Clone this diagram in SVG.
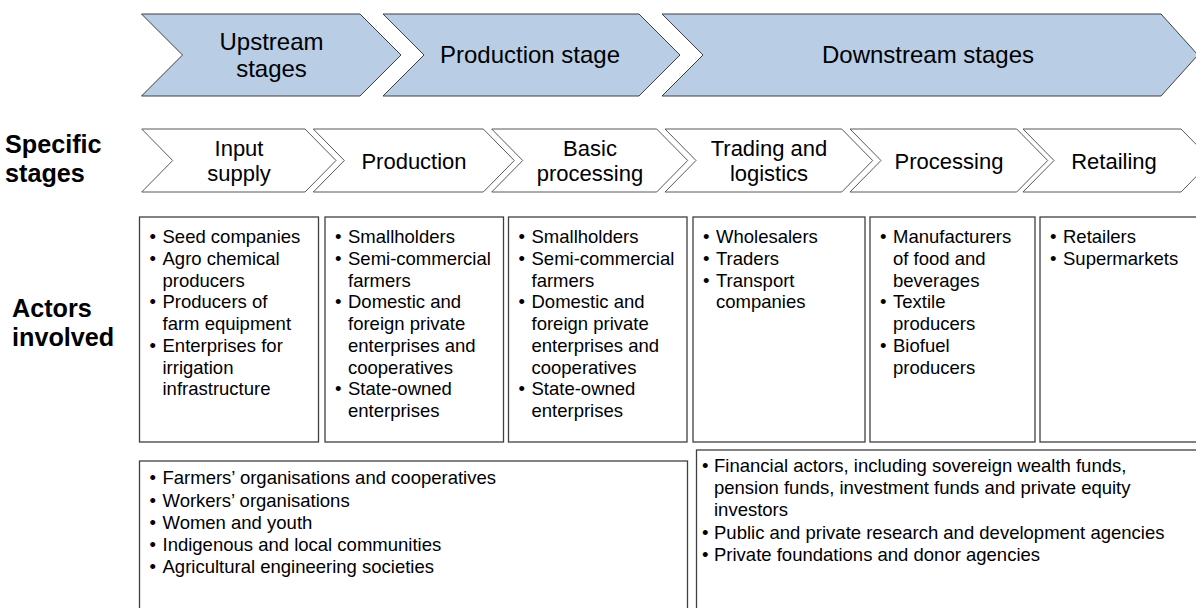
<svg xmlns="http://www.w3.org/2000/svg" width="1196" height="608" viewBox="0 0 1196 608">
<style>
text{font-family:"Liberation Sans",Arial,sans-serif;fill:#000}
.top{fill:#B9CDE5;stroke:#404040;stroke-width:1}
.stage{fill:#FFFFFF;stroke:#595959;stroke-width:1}
.box{fill:#FFFFFF;stroke:#404040;stroke-width:1.3}
.t1{font-size:24px;text-anchor:middle}
.t2{font-size:22px;text-anchor:middle}
.lbl{font-size:25.2px;font-weight:bold}
.bx{font-size:18.5px}
</style>
<rect width="1196" height="608" fill="#FFFFFF"/>

<g id="upstream">
<path class="top" d="M141.5,14 L360,14 L401,55 L360,96 L141.5,96 L182.5,55 Z"/>
<text class="t1" x="271.5" y="50">Upstream<tspan x="271.5" y="77">stages</tspan></text>
</g>
<g id="production-stage">
<path class="top" d="M383,14 L639,14 L680,55 L639,96 L383,96 L424,55 Z"/>
<text class="t1" x="530" y="63">Production stage</text>
</g>
<g id="downstream">
<path class="top" d="M662,14 L1161,14 L1198,55 L1161,96 L662,96 L703,55 Z"/>
<text class="t1" x="928" y="63">Downstream stages</text>
</g>

<g id="label-specific">
<text class="lbl" x="5" y="152.5">Specific<tspan x="5" y="181.5">stages</tspan></text>
</g>

<g id="input-supply">
<path class="stage" d="M141.7,129 L305,129 L336,160.5 L305,192 L141.7,192 L172.7,160.5 Z"/>
<text class="t2" x="239" y="156">Input<tspan x="239" y="181">supply</tspan></text>
</g>
<g id="production">
<path class="stage" d="M313.3,129 L483.3,129 L514.3,160.5 L483.3,192 L313.3,192 L344.3,160.5 Z"/>
<text class="t2" x="414" y="168.5">Production</text>
</g>
<g id="basic-processing">
<path class="stage" d="M491.7,129 L656.7,129 L687.7,160.5 L656.7,192 L491.7,192 L522.7,160.5 Z"/>
<text class="t2" x="590" y="156">Basic<tspan x="590" y="181">processing</tspan></text>
</g>
<g id="trading-logistics">
<path class="stage" d="M665,129 L841.7,129 L872.7,160.5 L841.7,192 L665,192 L696,160.5 Z"/>
<text class="t2" x="769" y="156">Trading and<tspan x="769" y="181">logistics</tspan></text>
</g>
<g id="processing">
<path class="stage" d="M850,129 L1016.7,129 L1047.7,160.5 L1016.7,192 L850,192 L881,160.5 Z"/>
<text class="t2" x="949" y="168.5">Processing</text>
</g>
<g id="retailing">
<path class="stage" d="M1023,129 L1181,129 L1212,160.5 L1181,192 L1023,192 L1054,160.5 Z"/>
<text class="t2" x="1114" y="168.5">Retailing</text>
</g>

<g id="label-actors">
<text class="lbl" x="12" y="316.5">Actors<tspan x="12" y="345.5">involved</tspan></text>
</g>

<g id="actors-input-supply">
<rect class="box" x="139.5" y="217" width="179" height="225"/>
<text class="bx" x="149.5" y="243.3">•</text><text class="bx" x="162.5" y="243.3">Seed companies</text>
<text class="bx" x="149.5" y="265">•</text><text class="bx" x="162.5" y="265">Agro chemical</text>
<text class="bx" x="162.5" y="286.7">producers</text>
<text class="bx" x="149.5" y="308.4">•</text><text class="bx" x="162.5" y="308.4">Producers of</text>
<text class="bx" x="162.5" y="330.1">farm equipment</text>
<text class="bx" x="149.5" y="351.8">•</text><text class="bx" x="162.5" y="351.8">Enterprises for</text>
<text class="bx" x="162.5" y="373.5">irrigation</text>
<text class="bx" x="162.5" y="395.2">infrastructure</text>
</g>

<g id="actors-production">
<rect class="box" x="325" y="217" width="178.5" height="225"/>
<text class="bx" x="335" y="243.3">•</text><text class="bx" x="348" y="243.3">Smallholders</text>
<text class="bx" x="335" y="265">•</text><text class="bx" x="348" y="265">Semi-commercial</text>
<text class="bx" x="348" y="286.7">farmers</text>
<text class="bx" x="335" y="308.4">•</text><text class="bx" x="348" y="308.4">Domestic and</text>
<text class="bx" x="348" y="330.1">foreign private</text>
<text class="bx" x="348" y="351.8">enterprises and</text>
<text class="bx" x="348" y="373.5">cooperatives</text>
<text class="bx" x="335" y="395.2">•</text><text class="bx" x="348" y="395.2">State-owned</text>
<text class="bx" x="348" y="416.9">enterprises</text>
</g>

<g id="actors-basic-processing">
<rect class="box" x="508.5" y="217" width="178.5" height="225"/>
<text class="bx" x="518.5" y="243.3">•</text><text class="bx" x="531.5" y="243.3">Smallholders</text>
<text class="bx" x="518.5" y="265">•</text><text class="bx" x="531.5" y="265">Semi-commercial</text>
<text class="bx" x="531.5" y="286.7">farmers</text>
<text class="bx" x="518.5" y="308.4">•</text><text class="bx" x="531.5" y="308.4">Domestic and</text>
<text class="bx" x="531.5" y="330.1">foreign private</text>
<text class="bx" x="531.5" y="351.8">enterprises and</text>
<text class="bx" x="531.5" y="373.5">cooperatives</text>
<text class="bx" x="518.5" y="395.2">•</text><text class="bx" x="531.5" y="395.2">State-owned</text>
<text class="bx" x="531.5" y="416.9">enterprises</text>
</g>

<g id="actors-trading">
<rect class="box" x="693" y="217" width="172" height="225"/>
<text class="bx" x="703" y="243.3">•</text><text class="bx" x="716" y="243.3">Wholesalers</text>
<text class="bx" x="703" y="265">•</text><text class="bx" x="716" y="265">Traders</text>
<text class="bx" x="703" y="286.7">•</text><text class="bx" x="716" y="286.7">Transport</text>
<text class="bx" x="716" y="308.4">companies</text>
</g>

<g id="actors-processing">
<rect class="box" x="870" y="217" width="165" height="225"/>
<text class="bx" x="880" y="243.3">•</text><text class="bx" x="893" y="243.3">Manufacturers</text>
<text class="bx" x="893" y="265">of food and</text>
<text class="bx" x="893" y="286.7">beverages</text>
<text class="bx" x="880" y="308.4">•</text><text class="bx" x="893" y="308.4">Textile</text>
<text class="bx" x="893" y="330.1">producers</text>
<text class="bx" x="880" y="351.8">•</text><text class="bx" x="893" y="351.8">Biofuel</text>
<text class="bx" x="893" y="373.5">producers</text>
</g>

<g id="actors-retailing">
<rect class="box" x="1040" y="217" width="170" height="225"/>
<text class="bx" x="1050" y="243.3">•</text><text class="bx" x="1063" y="243.3">Retailers</text>
<text class="bx" x="1050" y="265">•</text><text class="bx" x="1063" y="265">Supermarkets</text>
</g>

<g id="actors-civil-society">
<rect class="box" x="139.5" y="461" width="548" height="160"/>
<text class="bx" x="149.5" y="484.3">•</text><text class="bx" x="162.5" y="484.3">Farmers’ organisations and cooperatives</text>
<text class="bx" x="149.5" y="506.5">•</text><text class="bx" x="162.5" y="506.5">Workers’ organisations</text>
<text class="bx" x="149.5" y="528.7">•</text><text class="bx" x="162.5" y="528.7">Women and youth</text>
<text class="bx" x="149.5" y="550.9">•</text><text class="bx" x="162.5" y="550.9">Indigenous and local communities</text>
<text class="bx" x="149.5" y="573.1">•</text><text class="bx" x="162.5" y="573.1">Agricultural engineering societies</text>
</g>

<g id="actors-finance">
<rect class="box" x="696.5" y="450" width="520" height="170"/>
<text class="bx" x="702" y="472">•</text><text class="bx" x="714" y="472">Financial actors, including sovereign wealth funds,</text>
<text class="bx" x="714" y="494.2">pension funds, investment funds and private equity</text>
<text class="bx" x="714" y="516.4">investors</text>
<text class="bx" x="702" y="538.6">•</text><text class="bx" x="714" y="538.6">Public and private research and development agencies</text>
<text class="bx" x="702" y="560.8">•</text><text class="bx" x="714" y="560.8">Private foundations and donor agencies</text>
</g>

<g id="connectors"></g>
</svg>
